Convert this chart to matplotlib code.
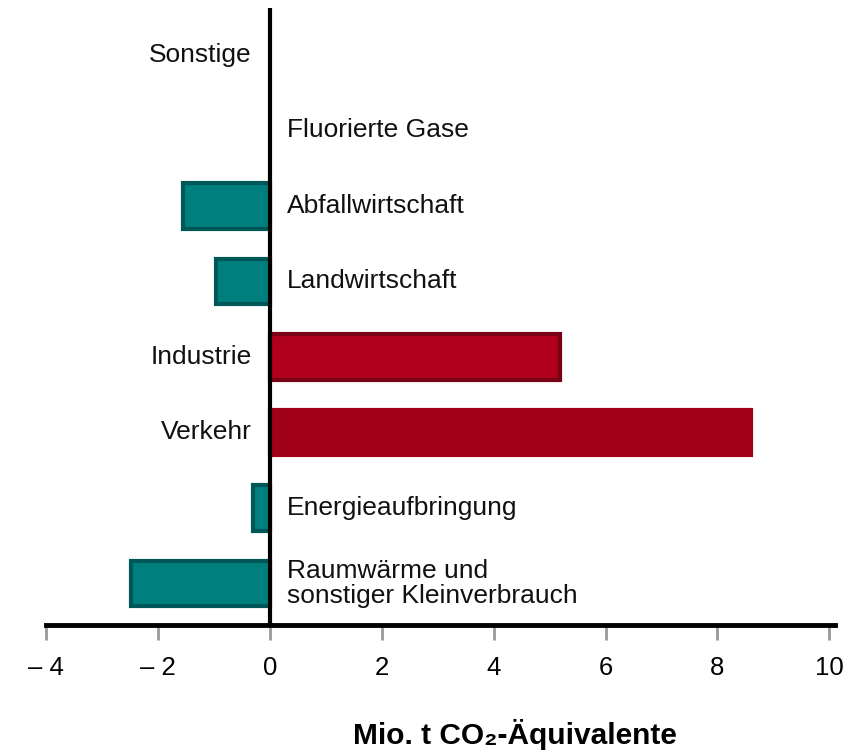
import matplotlib
matplotlib.use("Agg")
import matplotlib.pyplot as plt

plt.rcParams['font.family'] = ['Liberation Sans', 'DejaVu Sans']

categories = ["Sonstige", "Fluorierte Gase", "Abfallwirtschaft", "Landwirtschaft",
              "Industrie", "Verkehr", "Energieaufbringung",
              "Raumwärme und\nsonstiger Kleinverbrauch"]
values = [0.0, 0.0, -1.55, -0.96, 5.18, 8.6, -0.3, -2.48]
face_colors = ["#007F7F", "#007F7F", "#007F7F", "#007F7F", "#B0001E", "#A00018", "#007F7F", "#007F7F"]
edge_colors = ["#005757", "#005757", "#005757", "#005757", "#7A0016", "#A00018", "#005757", "#005757"]
xticks = [-4, -2, 0, 2, 4, 6, 8, 10]
xticklabels = ["– 4", "– 2", "0", "2", "4", "6", "8", "10"]
xlabel = "Mio. t CO₂-Äquivalente"

fig = plt.figure(figsize=(8.6, 7.52), dpi=100)
ax = fig.add_axes([46/860, 1-625/752, (835-46)/860, (625-8)/752])

ypos = list(range(len(categories)))
for y, v, fc, ec in zip(ypos, values, face_colors, edge_colors):
    if v != 0:
        ax.barh(y, v, height=0.6, color=fc, edgecolor=ec, linewidth=3)

for y, v, lab in zip(ypos, values, categories):
    if v > 0 or lab == "Sonstige":
        ax.text(-0.32, y, lab, ha="right", va="center", fontsize=19, color="#111111")
    else:
        ax.text(0.3, y, lab, ha="left", va="center", fontsize=19, color="#111111",
                linespacing=1.1)

ax.set_ylim(len(categories) - 0.45, -0.62)
ax.set_xlim(-4, 10.1)
ax.axvline(0, color="black", lw=3, zorder=5)

for s in ["top", "right", "left"]:
    ax.spines[s].set_visible(False)
ax.spines["bottom"].set_linewidth(3.5)
ax.set_yticks([])
ax.set_xticks(xticks)
ax.set_xticklabels(xticklabels, fontsize=18.5)
ax.tick_params(axis="x", direction="out", length=11, width=2, color="#999999", pad=11)
ax.set_xlabel(xlabel, fontsize=21.5, fontweight="bold")
ax.xaxis.label.set_va("center")
ax.xaxis.set_label_coords(0.594, -0.178)

fig.savefig("out.png", dpi=100)
